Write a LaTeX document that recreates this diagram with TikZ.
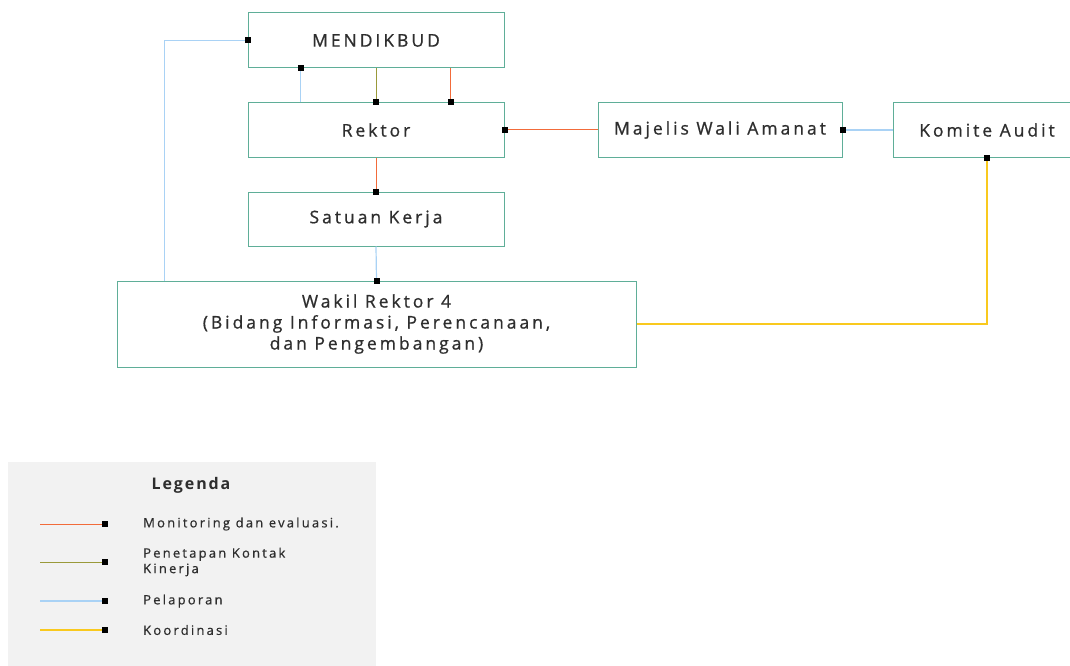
\documentclass[tikz,border=0pt]{standalone}
\usepackage{fontspec}
\setmainfont{Open Sans}[LetterSpace=17,FakeBold=0.8]
\newfontfamily\legfont{Open Sans}[LetterSpace=17,FakeBold=0.6]
\newfontfamily\titlefont{Open Sans}[LetterSpace=12]
\usetikzlibrary{calc}
\definecolor{boxline}{HTML}{5FAE98}
\definecolor{cmon}{HTML}{F26B3A}
\definecolor{cpen}{HTML}{9A9A3A}
\definecolor{cpel}{HTML}{A9D2F5}
\definecolor{ckoo}{HTML}{F9C91E}
\definecolor{legbg}{HTML}{F2F2F2}
\definecolor{txt}{HTML}{2E2E2E}
\tikzset{
  orgbox/.style={draw=boxline, line width=1pt, fill=white, text=txt, inner sep=0pt, align=center,
    font=\fontsize{17.5}{21}\selectfont},
  sq/.style={fill=black, inner sep=0pt, minimum size=6pt},
  mon/.style={draw=cmon, line width=1pt},
  pen/.style={draw=cpen, line width=1pt},
  pel/.style={draw=cpel, line width=1.2pt},
  koo/.style={draw=ckoo, line width=1.2pt},
  legtext/.style={anchor=west, text=txt, align=left, font=\legfont\fontsize{13}{15.5}\selectfont, inner sep=0pt},
}
\begin{document}
\begin{tikzpicture}[x=1pt,y=-1pt]
\useasboundingbox (0,0) rectangle (1070,666);
\clip (0,0) rectangle (1070,666);
% boxes
\node[orgbox, minimum width=256pt, minimum height=55pt] (mend) at (376,40.5) {MENDIKBUD};
\node[orgbox, minimum width=256pt, minimum height=54pt] (rek) at (376,130) {Rektor};
\node[orgbox, minimum width=256pt, minimum height=54pt] (sat) at (376,219) {Satuan Kerja};
\node[orgbox, minimum width=519pt, minimum height=86pt] (wak) at (376.5,324) {Wakil Rektor 4\\(Bidang Informasi, Perencanaan,\\dan Pengembangan)};
\node[orgbox, minimum width=244pt, minimum height=54pt] (maj) at (720,130) {Majelis Wali Amanat};
\node[orgbox, minimum width=188pt, minimum height=54pt] (kom) at (987,130) {Komite Audit};
% connectors
\draw[pel] ($(wak.north west)+(48,0)$) |- (mend.west);
\node[sq] at (mend.west) {};
\draw[pel] ($(rek.north west)+(53,0)$) -- ($(mend.south west)+(53,0)$);
\node[sq] at ($(mend.south west)+(53,0)$) {};
\draw[pen] (mend.south) -- (rek.north);
\node[sq] at (rek.north) {};
\draw[mon] ($(mend.south west)+(203,0)$) -- ($(rek.north west)+(203,0)$);
\node[sq] at ($(rek.north west)+(203,0)$) {};
\draw[mon] (maj.west) -- (rek.east);
\node[sq] at (rek.east) {};
\draw[mon] (rek.south) -- (sat.north);
\node[sq] at (sat.north) {};
\draw[pel] (sat.south) -- (wak.north);
\node[sq] at (wak.north) {};
\draw[pel] (kom.west) -- (maj.east);
\node[sq] at (maj.east) {};
\draw[koo] (wak.east) -| (kom.south);
\node[sq] at (kom.south) {};
% legend
\node[fill=legbg, minimum width=368pt, minimum height=208pt, inner sep=0pt, anchor=north west] (leg) at (8,462) {};
\node[text=txt, font=\titlefont\fontsize{16}{18}\selectfont\bfseries, inner sep=0pt] (legt) at (191,485) {Legenda};
\coordinate (l1a) at (40,524); \coordinate (l1b) at (105,524);
\coordinate (l2a) at (40,562); \coordinate (l2b) at (105,562);
\coordinate (l3a) at (40,601); \coordinate (l3b) at (105,601);
\coordinate (l4a) at (40,630); \coordinate (l4b) at (105,630);
\draw[mon] (l1a) -- (l1b); \node[sq] at (l1b) {};
\draw[pen] (l2a) -- (l2b); \node[sq] at (l2b) {};
\draw[pel] (l3a) -- (l3b); \node[sq] at (l3b) {};
\draw[koo] (l4a) -- (l4b); \node[sq] at (l4b) {};
\node[legtext] (t1) at (143,524) {Monitoring dan evaluasi.};
\node[legtext] (t2) at (143,562) {Penetapan Kontak\\Kinerja};
\node[legtext] (t3) at (143,601) {Pelaporan};
\node[legtext] (t4) at (143,630) {Koordinasi};
\end{tikzpicture}
\end{document}
